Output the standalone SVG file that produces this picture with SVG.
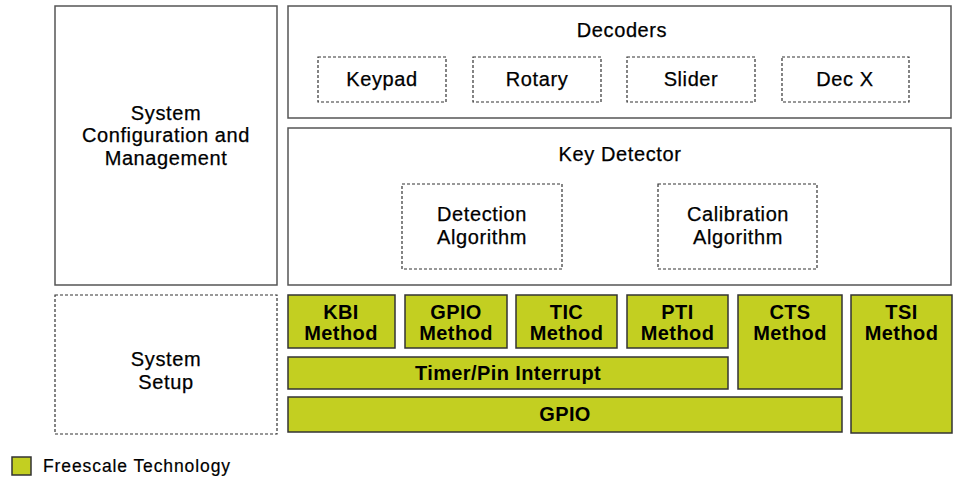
<svg xmlns="http://www.w3.org/2000/svg" width="959" height="477" viewBox="0 0 959 477">
<style>
.box{fill:#fff;stroke:#555;stroke-width:1.5}
.dash{fill:#fff;stroke:#333;stroke-width:1.2;stroke-dasharray:3 2}
.green{fill:#c3cf21;stroke:#333;stroke-width:1.5}
.t{font-family:"Liberation Sans",Arial,sans-serif;font-size:20px;fill:#000;stroke:#000;stroke-width:0.25;text-anchor:middle;letter-spacing:0.6px}
.b{font-family:"Liberation Sans",Arial,sans-serif;font-size:20px;font-weight:bold;fill:#000;text-anchor:middle;letter-spacing:0.4px}
.l{font-family:"Liberation Sans",Arial,sans-serif;font-size:17.5px;fill:#000;stroke:#000;stroke-width:0.2;letter-spacing:0.9px}
</style>
<g id="sysconfig"><rect class="box" x="55" y="6" width="222" height="279"/>
<text class="t" x="166" y="120">System</text><text class="t" x="166" y="142">Configuration and</text><text class="t" x="166" y="165">Management</text></g>
<g id="decoders"><rect class="box" x="288" y="6" width="663" height="112"/>
<text class="t" x="622" y="37">Decoders</text></g>
<g id="keypad"><rect class="dash" x="318" y="57" width="128" height="45"/><text class="t" x="382" y="86">Keypad</text></g>
<g id="rotary"><rect class="dash" x="473" y="57" width="128" height="45"/><text class="t" x="537" y="86">Rotary</text></g>
<g id="slider"><rect class="dash" x="627" y="57" width="128" height="45"/><text class="t" x="691" y="86">Slider</text></g>
<g id="decx"><rect class="dash" x="782" y="57" width="127" height="45"/><text class="t" x="845" y="86">Dec X</text></g>
<g id="keydetector"><rect class="box" x="288" y="128" width="663" height="157"/>
<text class="t" x="620" y="161">Key Detector</text></g>
<g id="detection"><rect class="dash" x="402" y="184" width="160" height="85"/><text class="t" x="482" y="221">Detection</text><text class="t" x="482" y="244">Algorithm</text></g>
<g id="calibration"><rect class="dash" x="658" y="184" width="159" height="85"/><text class="t" x="738" y="221">Calibration</text><text class="t" x="738" y="244">Algorithm</text></g>
<g id="syssetup"><rect class="dash" x="55" y="295" width="222" height="139"/><text class="t" x="166" y="366">System</text><text class="t" x="166" y="389">Setup</text></g>
<g id="kbi"><rect class="green" x="288" y="295" width="107" height="53"/><text class="b" x="341" y="319">KBI</text><text class="b" x="341" y="340">Method</text></g>
<g id="gpiomethod"><rect class="green" x="405" y="295" width="102" height="53"/><text class="b" x="456" y="319">GPIO</text><text class="b" x="456" y="340">Method</text></g>
<g id="tic"><rect class="green" x="516" y="295" width="101" height="53"/><text class="b" x="566.500" y="319">TIC</text><text class="b" x="566.500" y="340">Method</text></g>
<g id="pti"><rect class="green" x="627" y="295" width="101" height="53"/><text class="b" x="677.500" y="319">PTI</text><text class="b" x="677.500" y="340">Method</text></g>
<g id="cts"><rect class="green" x="738" y="295" width="104" height="94"/><text class="b" x="790" y="319">CTS</text><text class="b" x="790" y="340">Method</text></g>
<g id="tsi"><rect class="green" x="851" y="295" width="101" height="138"/><text class="b" x="901.500" y="319">TSI</text><text class="b" x="901.500" y="340">Method</text></g>
<g id="timer"><rect class="green" x="288" y="357" width="440" height="32"/><text class="b" x="508" y="380">Timer/Pin Interrupt</text></g>
<g id="gpio"><rect class="green" x="288" y="397" width="554" height="35"/><text class="b" x="565" y="421">GPIO</text></g>
<g id="legend"><rect class="green" x="12" y="457" width="19" height="18"/><text class="l" x="43" y="472">Freescale Technology</text></g>
<g id="connectors"/>
</svg>
